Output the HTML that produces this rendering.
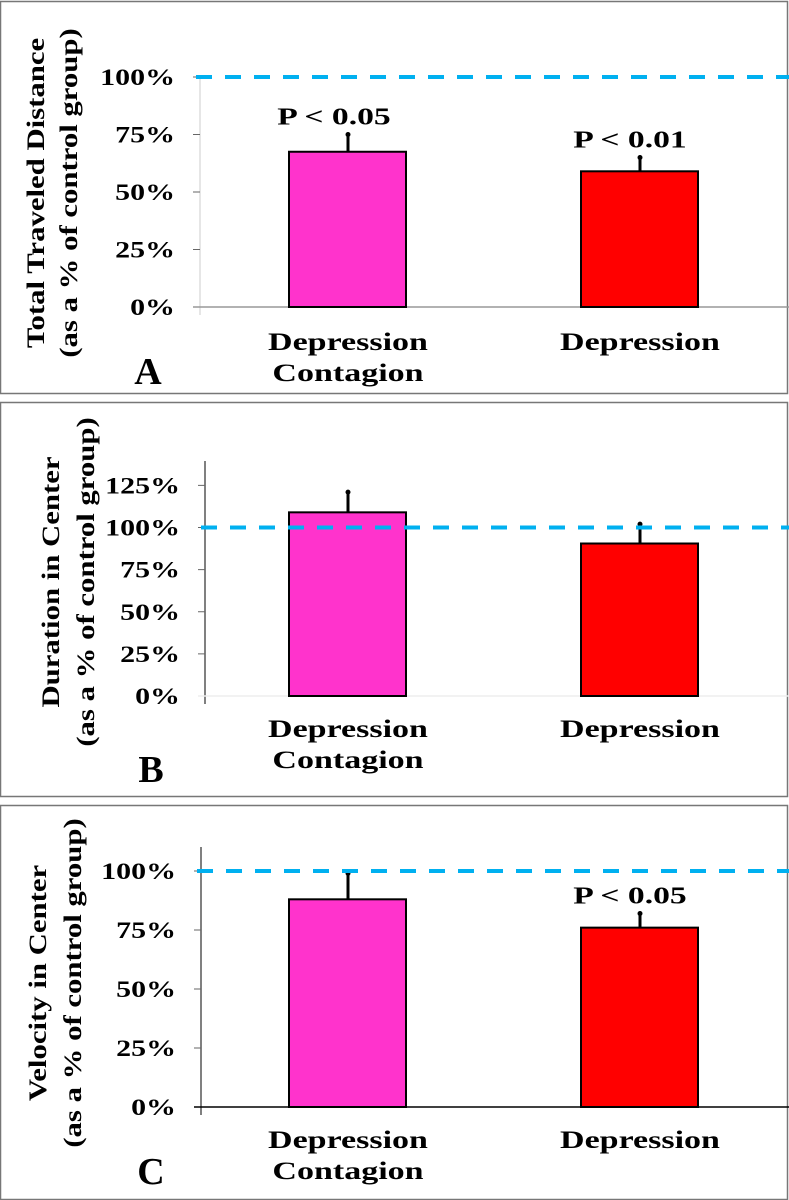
<!DOCTYPE html>
<html><head><meta charset="utf-8"><style>
html,body{margin:0;padding:0;background:#fff}
svg{display:block;font-family:"Liberation Serif",serif;font-weight:bold}
</style></head><body>
<svg id="c" width="789" height="1200" xmlns="http://www.w3.org/2000/svg"></svg>
<script>
const categories = ["Depression Contagion", "Depression"];
const valuesA = [67.5, 59];
const errorsA = [7.5, 6];
const valuesB = [109, 90.5];
const errorsB = [12, 11.5];
const valuesC = [88, 76];
const errorsC = [11, 6];
const pLabelsA = ["P < 0.05", "P < 0.01"];
const pLabelsB = ["", ""];
const pLabelsC = ["", "P < 0.05"];
const ticksA = [0, 25, 50, 75, 100];
const ticksB = [0, 25, 50, 75, 100, 125];
const ticksC = [0, 25, 50, 75, 100];

const NS = "http://www.w3.org/2000/svg";
const svg = document.getElementById("c");
function mk(tag, attrs, parent) {
  const e = document.createElementNS(NS, tag);
  for (const k in attrs) e.setAttribute(k, attrs[k]);
  (parent || svg).appendChild(e);
  return e;
}
function widen(t, f) {
  const w = t.getComputedTextLength();
  if (w > 0) {
    t.setAttribute("textLength", (w * f).toFixed(1));
    t.setAttribute("lengthAdjust", "spacingAndGlyphs");
  }
}
const colors = ["#FF33CC", "#FF0000"];
const panels = [
  {top:1, bot:393, ax:200, base:307, y100:77, axTop:77, axColor:"#ccc", baseColor:"#999", vals:valuesA, errs:errorsA, p:pLabelsA, ticks:ticksA,
   title:["Total Traveled Distance","(as a % of control group)"], tx:[35,68], ty:193, letter:"A", lx:148, ly:384, catY:350, name:"panel-a"},
  {top:402, bot:796, ax:205, base:696, y100:527.5, axTop:461, axColor:"#000", baseColor:"#eee", vals:valuesB, errs:errorsB, p:pLabelsB, ticks:ticksB,
   title:["Duration  in Center","(as a % of control group)"], tx:[50,85], ty:582, letter:"B", lx:151, ly:782, catY:737, name:"panel-b"},
  {top:805, bot:1199, ax:201, base:1107, y100:871, axTop:847, axColor:"#000", baseColor:"#000", vals:valuesC, errs:errorsC, p:pLabelsC, ticks:ticksC,
   title:["Velocity in Center","(as a % of control group)"], tx:[37,72], ty:983, letter:"C", lx:151, ly:1184, catY:1148, name:"panel-c"}
];
const barX = [289, 581], barW = 117, centers = [348, 640];
panels.forEach(P => {
  const g = mk("g", {});
  
  
  const fr = mk("rect", {x:0.5, y:P.top+0.5, width:787, height:P.bot-P.top, fill:"#fff", stroke:"#777", "stroke-width":1.5}, g);
  
  
  const unit = (P.base - P.y100) / 100;
  const y = v => P.base - v * unit;
  const axl = mk("line", {x1:P.ax, y1:P.axTop, x2:P.ax, y2:P.base+8, stroke:P.axColor, "stroke-width":1}, g);
  
  
  P.ticks.forEach(t => {
    const tl = mk("line", {x1:P.ax-7, y1:y(t), x2:P.ax, y2:y(t), stroke:"#666", "stroke-width":1}, g);
    
    
    const tt = mk("text", {x:P.ax-25, y:y(t)+8, "text-anchor":"end", "font-size":23}, g);
    tt.textContent = t + "%";
    
    
    widen(tt, 1.3);
  });
  const bl = mk("line", {x1:P.ax-7, y1:P.base, x2:789, y2:P.base, stroke:P.baseColor, "stroke-width":1.5}, g);
  
  
  P.vals.forEach((v, i) => {
    const r = mk("rect", {x:barX[i], y:y(v), width:barW, height:P.base-y(v), fill:colors[i], stroke:"#000", "stroke-width":2}, g);
    
    
    const e = mk("line", {x1:centers[i], y1:y(v), x2:centers[i], y2:y(v+P.errs[i]), stroke:"#000", "stroke-width":3}, g);
    
    
    const ec = mk("circle", {cx:centers[i], cy:y(v+P.errs[i]), r:2.5, fill:"#000"}, g);
    
    
    if (P.p[i]) {
      const pt = mk("text", {x:centers[i]-(i===0?14:10), y:y(v+P.errs[i])-10, "text-anchor":"middle", "font-size":24}, g);
      pt.textContent = P.p[i];
      
      
      widen(pt, 1.4);
    }
    const words = categories[i].split(" ");
    words.forEach((w, k) => {
      const ct = mk("text", {x:centers[i], y:P.catY + k*31, "text-anchor":"middle", "font-size":25}, g);
      ct.textContent = w;
      
      
      widen(ct, 1.36);
    });
  });
  const d = mk("line", {x1:P.ax-4, y1:y(100), x2:789, y2:y(100), stroke:"#00B0F0", "stroke-width":4, "stroke-dasharray":"16 13"}, g);
  
  
  P.title.forEach((t, k) => {
    const tt = mk("text", {x:0, y:0, transform:`translate(${P.tx[k]+9},${P.ty}) rotate(-90)`, "text-anchor":"middle", "font-size":25}, g);
    tt.textContent = t;
    
    
    widen(tt, 1.23);
  });
  const L = mk("text", {x:P.lx, y:P.ly, "text-anchor":"middle", "font-size":38}, g);
  L.textContent = P.letter;
  
  
});
</script>
</body></html>
